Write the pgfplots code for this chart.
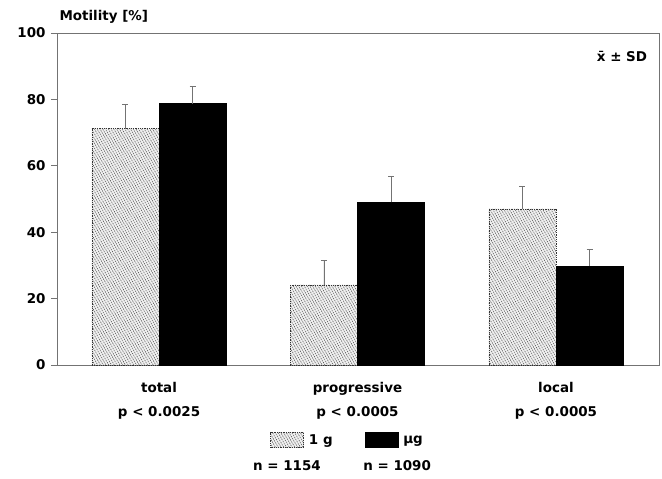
\documentclass[border=0pt]{standalone}
\usepackage{fontspec}
\setmainfont{DejaVu Sans}
\usepackage{pgfplots}
\pgfplotsset{compat=1.18}
\usetikzlibrary{patterns.meta,calc}
\definecolor{axgray}{gray}{0.45}
\newcommand{\lbl}{\bfseries\fontsize{13.5}{24}\selectfont}
\begin{document}
\begin{tikzpicture}
\begin{axis}[name=ax, scale only axis, width=602bp, height=332bp,
  xmin=-0.514, xmax=2.519, ymin=0, ymax=100,
  ytick={0,20,...,100}, xtick={0,1,2},
  ytick pos=left, xtick pos=bottom,
  xticklabels={{total\\p < 0.0025},{progressive\\p < 0.0005},{local\\p < 0.0005}},
  tick align=outside, major tick length=6bp,
  axis line style={axgray, line width=0.7bp},
  tick style={axgray, line width=0.7bp},
  xtick style={draw=none},
  extra x ticks={0,1,2}, extra x tick labels={},
  extra x tick style={major tick length=4bp, tick style={axgray,line width=0.7bp}},
  /pgf/number format/assume math mode=true,
  yticklabel style={font=\lbl, xshift=-2bp},
  xticklabel style={font=\lbl, align=center, yshift=-8bp},
  legend columns=2,
  legend style={draw=none, fill=none, at={(axis description cs:0.4826,-0.226)}, anchor=center,
    font=\lbl, /tikz/every even column/.append style={column sep=30bp}},
  legend image code/.code={\draw[#1] (0bp,-7.5bp) rectangle (33bp,7.5bp);},
  error bars/y dir=plus, error bars/y explicit,
  error bars/error bar style={axgray, solid, line width=0.7bp},
  error bars/error mark options={rotate=90, mark size=3bp, axgray, solid, line width=0.7bp},
  clip=false,
]
\addplot[ybar, bar width=0.3375, bar shift=0pt, fill=gray!12, draw=gray!40!black, densely dotted, line width=0.8bp,
  postaction={pattern={Lines[angle=120, distance=2.4bp, line width=0.5bp]}, pattern color=gray!55!black}]
  coordinates {(-0.169,71.2) +- (0,7.2) (0.831,24.1) +- (0,7.5) (1.831,47.0) +- (0,6.8)};
\addlegendentry{\hspace{3bp}1 g}
\addplot[ybar, bar width=0.3375, bar shift=0pt, fill=black, draw=black, line width=0.7bp]
  coordinates {(0.169,78.7) +- (0,5.3) (1.169,49.0) +- (0,7.8) (2.169,29.8) +- (0,5.0)};
\addlegendentry{\hspace{3bp}µg}
\node[font=\lbl] at (axis description cs:0.382,-0.304) {n = 1154};
\node[font=\lbl] at (axis description cs:0.565,-0.304) {n = 1090};
\node[font=\lbl] at (axis description cs:0.9385,0.928) {\={x} ± SD};
\node[font=\bfseries\fontsize{13.5}{15}\selectfont, anchor=west] at ($(axis description cs:0,1)+(-1bp,16bp)$) {Motility [\%]};
\end{axis}
\pgfresetboundingbox
\path[use as bounding box] ($(ax.south west)+(-57bp,-114bp)$) rectangle ($(ax.north east)+(3bp,33bp)$);
\end{tikzpicture}
\end{document}
